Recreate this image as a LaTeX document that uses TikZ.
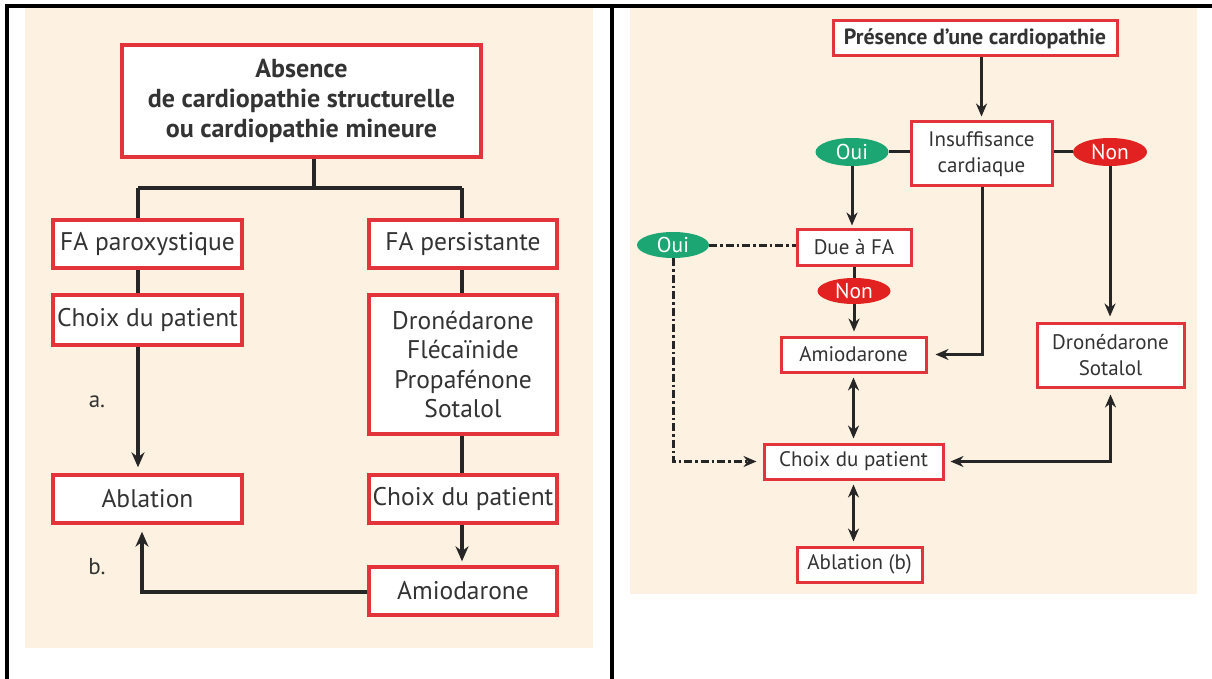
\documentclass[tikz,border=0pt]{standalone}
\usepackage{fontspec}
\setmainfont{PT Sans}
\usetikzlibrary{positioning, arrows.meta, shapes.geometric, calc}
\definecolor{boxred}{HTML}{E3343B}
\definecolor{panelbg}{HTML}{FDF1E1}
\definecolor{ouigreen}{HTML}{1CA673}
\definecolor{nonred}{HTML}{E22121}
\definecolor{ink}{HTML}{333333}

\tikzset{
  box/.style={draw=boxred, line width=3.4pt, fill=white, text=ink,
              align=center, inner sep=0pt},
  bigbox/.style={box, font=\fontsize{25.5}{29.5}\selectfont},
  smallbox/.style={box, line width=3pt, font=\fontsize{21}{25.5}\selectfont},
  oval/.style={ellipse, inner sep=0pt, text=white,
               font=\fontsize{21.5}{22}\selectfont},
  oui/.style={oval, fill=ouigreen},
  non/.style={oval, fill=nonred},
  link/.style={line width=3.4pt, draw=black!85},
  arr/.style={link, -{Stealth[length=15pt,width=13pt]}},
  sarr/.style={line width=3pt, draw=black!85, -{Stealth[length=13pt,width=11pt]}},
  sdarr/.style={line width=3pt, draw=black!85,
                {Stealth[length=13pt,width=11pt]}-{Stealth[length=13pt,width=11pt]}},
  slink/.style={line width=3pt, draw=black!85},
  dashdot/.style={line width=3pt, draw=black!85,
                  dash pattern=on 8pt off 3pt on 2.5pt off 3pt}
}

\begin{document}
\begin{tikzpicture}[x=1pt, y=-1pt]
  \useasboundingbox (0,0) rectangle (1212,679);

  % panels and frame
  \fill[panelbg] (25,8) rectangle (593,648);
  \fill[panelbg] (630,8) rectangle (1197,594);
  \draw[line width=3.5pt] (7,679) -- (7,6) -- (1212,6);
  \draw[line width=3.5pt] (612,6) -- (612,679);

  % left panel
  \node[bigbox, font=\fontsize{26}{30}\bfseries, minimum width=359, minimum height=112]
    (absence) at (301.5,101) {Absence\\de cardiopathie structurelle\\ou cardiopathie mineure};
  \node[bigbox, minimum width=189, minimum height=48] (parox) at (147.5,244) {FA paroxystique};
  \node[bigbox, minimum width=188, minimum height=48] (persist) at (463,244) {FA persistante};
  \node[bigbox, minimum width=189, minimum height=50] (choixL) at (147.5,320) {Choix du patient};
  \node[bigbox, minimum width=188, minimum height=139]
    (drone) at (463,364.5) {Dronédarone\\Flécaïnide\\Propafénone\\Sotalol};
  \node[bigbox, minimum width=189, minimum height=48] (ablL) at (147.5,499) {Ablation};
  \node[bigbox, minimum width=188, minimum height=48] (choixR) at (463,499) {Choix du patient};
  \node[bigbox, minimum width=188, minimum height=48] (amioL) at (463,591) {Amiodarone};

  \node[text=ink, font=\fontsize{23}{26}\selectfont] (labA) at (97,402) {a.};
  \node[text=ink, font=\fontsize{23}{26}\selectfont] (labB) at (97,567) {b.};

  \coordinate (split) at (314,188);
  \coordinate (splitL) at (138,188);
  \coordinate (splitR) at (462,188);

  \draw[link] (absence.south -| split) -- (split);
  \draw[link] (splitL) -- (splitR);
  \draw[link] (splitL) -- (splitL |- parox.north);
  \draw[link] (splitR) -- (splitR |- persist.north);
  \draw[link] (parox.south -| splitL) -- (choixL.north -| splitL);
  \draw[link] (persist.south -| splitR) -- (drone.north -| splitR);
  \draw[arr, shorten >=6pt] (choixL.south -| splitL) -- (ablL.north -| splitL);
  \draw[link] (drone.south -| splitR) -- (choixR.north -| splitR);
  \draw[arr, shorten >=4pt] (choixR.south -| splitR) -- (amioL.north -| splitR);
  \coordinate (backL) at (142,592);
  \draw[arr, shorten >=7pt] (amioL.west |- backL) -- (backL) -- (backL |- ablL.south);

  % right panel
  \node[smallbox, font=\fontsize{22}{25}\bfseries, minimum width=284, minimum height=35]
    (presence) at (975,38.5) {Présence d’une cardiopathie};
  \node[smallbox, minimum width=141, minimum height=64] (insuff) at (981.5,154) {Insuffisance\\cardiaque};
  \node[oui, minimum width=73, minimum height=28] (ouiA) at (852,152) {Oui};
  \node[non, minimum width=74, minimum height=28] (nonA) at (1110,152) {Non};
  \node[smallbox, minimum width=114, minimum height=36] (dueFA) at (854,247) {Due à FA};
  \node[oui, minimum width=72, minimum height=26] (ouiB) at (673,245) {Oui};
  \node[non, minimum width=73, minimum height=26] (nonB) at (854,291) {Non};
  \node[smallbox, minimum width=145, minimum height=35] (amioR) at (853.5,354.5) {Amiodarone};
  \node[smallbox, minimum width=147, minimum height=64] (droneR) at (1110.5,355) {Dronédarone\\Sotalol};
  \node[smallbox, minimum width=179, minimum height=35] (choixP) at (853.5,461.5) {Choix du patient};
  \node[smallbox, minimum width=125, minimum height=35] (ablR) at (859.5,564.5) {Ablation (b)};

  \draw[sarr, shorten >=4pt] (presence.south -| insuff.north) -- (insuff.north);
  \draw[slink] (ouiA) -- (insuff.west |- ouiA);
  \draw[slink] (insuff.east |- nonA) -- (nonA);
  \draw[sarr, shorten >=2pt] (ouiA.south) -- (ouiA.south |- dueFA.north);
  \draw[dashdot] (ouiB) -- (dueFA.west |- ouiB);
  \draw[slink] (dueFA.south) -- (nonB.north);
  \draw[sarr, shorten >=4pt] (nonB.south) -- (nonB.south |- amioR.north);
  \coordinate (insuffOut) at (982,354.5);
  \draw[sarr, shorten >=8pt] (insuff.south -| insuffOut) -- (insuffOut) -- (amioR.east);
  \draw[sarr, shorten >=5pt] (nonA.south) -- (nonA.south |- droneR.north);
  \draw[sdarr, shorten <=4pt, shorten >=4pt] (amioR.south) -- (choixP.north);
  \draw[sdarr, shorten <=4pt, shorten >=4pt] (choixP.south) -- (choixP.south |- ablR.north);
  \draw[sdarr, shorten <=6pt, shorten >=6pt] (choixP.east) -| (droneR.south);
  \draw[dashdot, -{Stealth[length=13pt,width=11pt]}, shorten >=6pt]
    (ouiB.south) |- (choixP.west);
\end{tikzpicture}
\end{document}
